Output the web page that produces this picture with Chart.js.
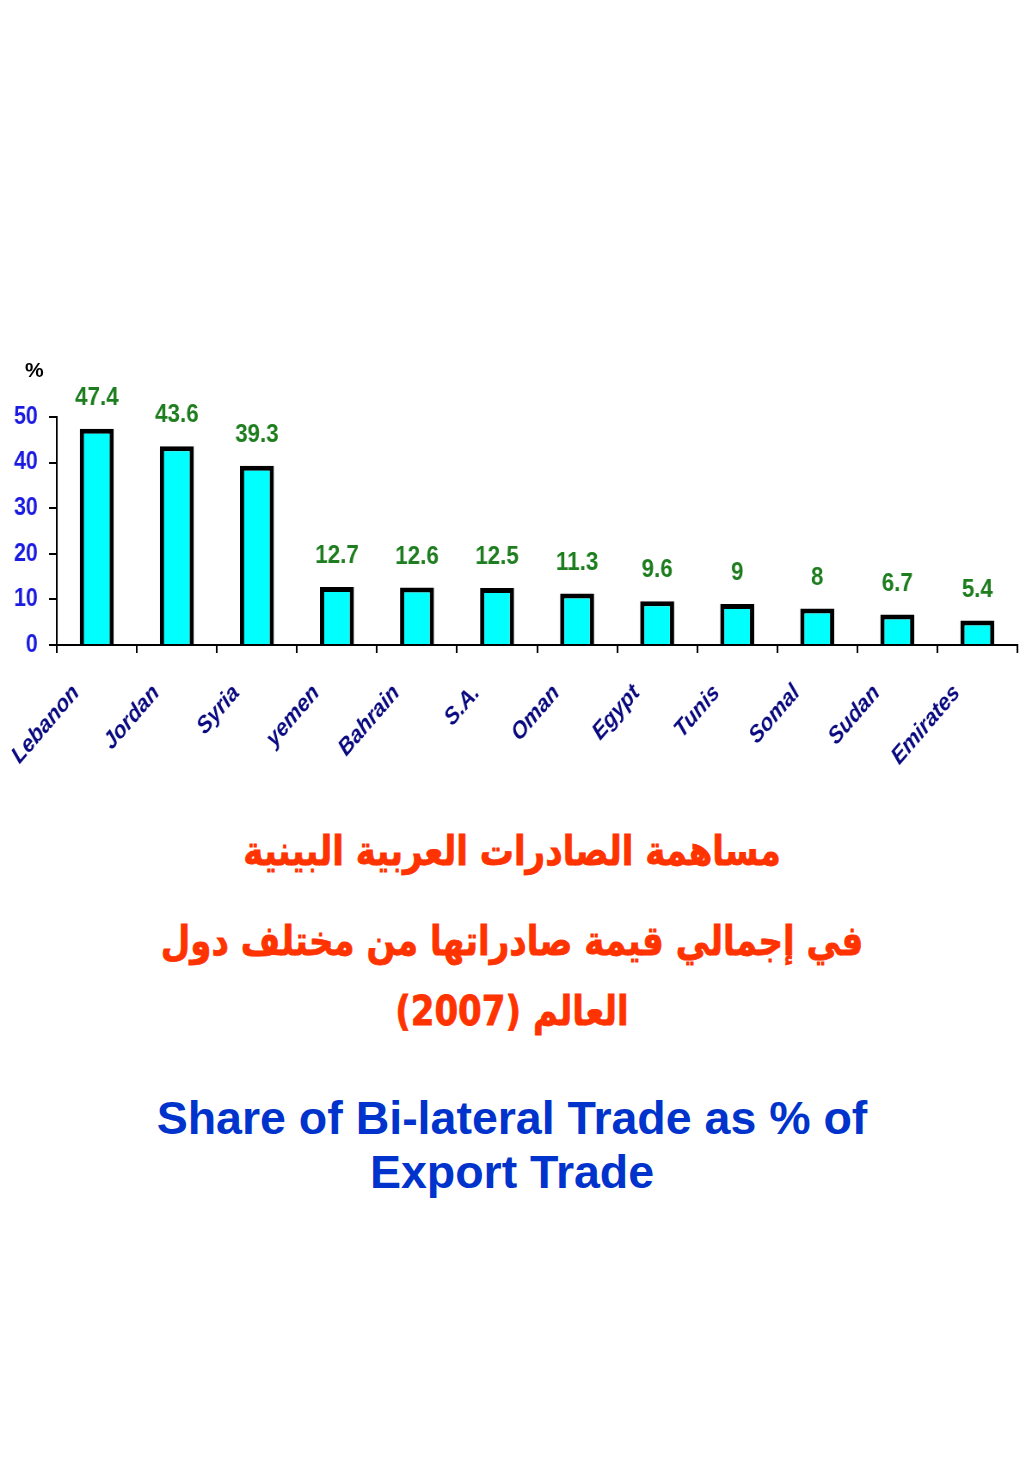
<!DOCTYPE html>
<html>
<head>
<meta charset="utf-8">
<script src="https://cdn.jsdelivr.net/npm/chart.js@4.4.0/dist/chart.umd.min.js"></script>
<style>
  html, body { margin: 0; padding: 0; background: #ffffff; width: 1024px; height: 1465px; overflow: hidden; }
  #wrap { position: absolute; left: 0; top: 0; width: 1190px; height: 800px; transform: scaleX(0.86); transform-origin: 0 0; }
  #pct { position: absolute; left: 25px; top: 358px; font: bold 21px "Liberation Sans", Arial, sans-serif; color: #000; }
  .ar { position: absolute; left: 0; width: 1024px; text-align: center; direction: rtl; color: #ff3300;
        font-family: "DejaVu Sans", sans-serif; font-weight: bold; font-size: 41px; line-height: 1;
        transform: scaleX(0.83); transform-origin: 512px 0; -webkit-text-stroke: 0.8px #ff3300; }
  .en { position: absolute; left: 0; width: 1024px; text-align: center; color: #0033cc;
        font-family: "Liberation Sans", Arial, sans-serif; font-weight: bold; font-size: 46.5px; line-height: 54px; }
</style>
</head>
<body>
<div id="wrap"><canvas id="c" width="1190" height="800"></canvas></div>
<div id="pct">%</div>
<div class="ar" style="top:831px;">مساهمة الصادرات العربية البينية</div>
<div class="ar" style="top:921px;">في إجمالي قيمة صادراتها من مختلف دول</div>
<div class="ar" style="top:991px;">العالم (2007)</div>
<div class="en" style="top:1091px;">Share of Bi-lateral Trade as % of<br>Export Trade</div>
<script>
const categories = ["Lebanon", "Jordan", "Syria", "yemen", "Bahrain", "S.A.", "Oman", "Egypt", "Tunis", "Somal", "Sudan", "Emirates"];
const shareValues = [47.4, 43.6, 39.3, 12.7, 12.6, 12.5, 11.3, 9.6, 9, 8, 6.7, 5.4];
const yTicks = [0, 10, 20, 30, 40, 50];

const valueLabels = {
  id: 'valueLabels',
  afterDatasetsDraw(chart) {
    const ctx = chart.ctx;
    const meta = chart.getDatasetMeta(0);
    ctx.save();
    ctx.fillStyle = '#1e7d1e';
    ctx.font = 'bold 26px "Liberation Sans", Arial, sans-serif';
    ctx.textAlign = 'center';
    ctx.textBaseline = 'middle';
    meta.data.forEach((bar, i) => {
      ctx.fillText(String(shareValues[i]), bar.x, bar.y - 31);
    });
    ctx.restore();
  }
};

new Chart(document.getElementById('c'), {
  type: 'bar',
  data: {
    labels: categories,
    datasets: [{
      data: shareValues,
      backgroundColor: '#00ffff',
      borderColor: '#000000',
      borderWidth: 5,
      borderSkipped: 'start',
      categoryPercentage: 1.0,
      barPercentage: 0.425
    }]
  },
  options: {
    responsive: false,
    devicePixelRatio: 1,
    animation: false,
    layout: { padding: { top: 417, right: 7, left: 0, bottom: 0 } },
    plugins: { legend: { display: false }, tooltip: { enabled: false }, title: { display: false } },
    scales: {
      x: {
        offset: true,
        grid: { display: true, drawOnChartArea: false, drawTicks: true, tickLength: 8, color: '#000', lineWidth: 2, offset: true },
        border: { display: true, color: '#000', width: 2 },
        ticks: {
          color: '#0a0a80',
          font: { family: '"Liberation Sans", Arial, sans-serif', size: 24, weight: 'bold', style: 'italic' },
          minRotation: 45, maxRotation: 45,
          padding: 26,
          labelOffset: -24,
          autoSkip: false
        },
        afterFit(s) { s.height = 155; }
      },
      y: {
        min: 0, max: 50,
        afterBuildTicks(s) { s.ticks = yTicks.map(v => ({ value: v })); },
        grid: { display: true, drawOnChartArea: false, drawTicks: true, tickLength: 9, color: '#000', lineWidth: 2 },
        border: { display: true, color: '#000', width: 2 },
        ticks: {
          color: '#1a1ae0',
          font: { family: '"Liberation Sans", Arial, sans-serif', size: 25, weight: 'bold' },
          padding: 13
        },
        afterFit(s) { s.width = 66; }
      }
    }
  },
  plugins: [valueLabels]
});
</script>
</body>
</html>
